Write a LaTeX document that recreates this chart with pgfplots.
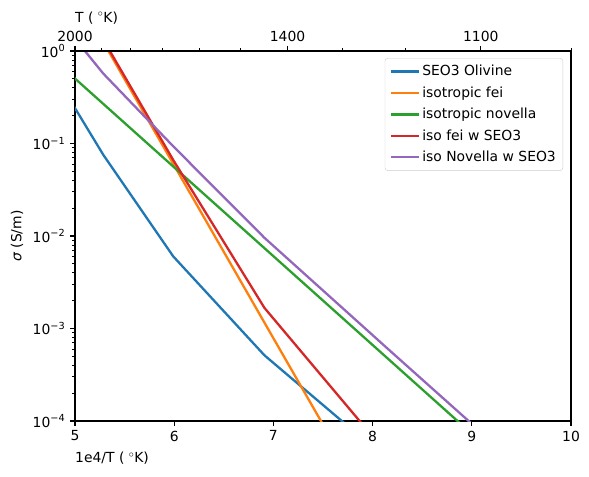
\documentclass[border=0pt]{standalone}
\usepackage{fontspec}
\setmainfont{DejaVu Sans}
\usepackage{pgfplots}
\pgfplotsset{compat=1.18}
\definecolor{c0}{HTML}{1F77B4}
\definecolor{c1}{HTML}{FF7F0E}
\definecolor{c2}{HTML}{2CA02C}
\definecolor{c3}{HTML}{D62728}
\definecolor{c4}{HTML}{9467BD}
\definecolor{lgray}{HTML}{CCCCCC}
\begin{document}
\fontsize{13.9}{16.7}\selectfont
\begin{tikzpicture}
\pgfplotsset{
  common/.style={
    scale only axis, width=496pt, height=370pt,
    xmin=5, xmax=10,
    tick align=outside,
    major tick length=4.9pt, minor tick length=2.8pt,
    every tick/.style={black, line width=1.1pt},
    minor tick style={line width=0.83pt},
    axis line style={line width=1.1pt},
    tick label style={font=\fontsize{13.9}{16.7}\selectfont},
    label style={font=\fontsize{13.9}{16.7}\selectfont},
  }
}
\begin{axis}[
  common,
  ymode=log, ymin=1e-4, ymax=1,
  xtick pos=bottom, ytick pos=left,
  xtick={5,6,7,8,9,10}, xticklabels={5,6,7,8,9,10},
  ytick={1e-4,1e-3,1e-2,1e-1,1},
  yticklabels={10\textsuperscript{−4},10\textsuperscript{−3},10\textsuperscript{−2},10\textsuperscript{−1},10\textsuperscript{0}},
  xlabel={1e4/T ( $^\circ$K)},
  xlabel style={at={(ticklabel cs:0)}, anchor=north west, inner sep=0pt, yshift=-6pt},
  ylabel={{\itshape σ} (S/m)},
  legend cell align=left,
  legend image code/.code={\draw[#1, line width=2.3pt] (0pt,0pt) -- (28pt,0pt);},
  legend style={at={(1,1)}, anchor=north east, xshift=-8pt, yshift=-7pt,
    draw=lgray, rounded corners=3pt, fill=white, fill opacity=0.8, text opacity=1,
    font=\fontsize{13.9}{16.7}\selectfont, row sep=4.8pt, inner sep=5pt},
]
\addplot[c0, line width=2.3pt] coordinates {(4.73,0.7244) (5.285,0.07551) (5.99,0.006026) (6.91,5.129e-4) (8.157,3.758e-5)};
\addlegendentry{SEO3 Olivine}
\addplot[c1, line width=2.3pt] coordinates {(4.73,13.58) (5.285,1.250) (5.99,0.0604) (6.91,1.156e-3) (8.157,5.43e-6)};
\addlegendentry{isotropic fei}
\addplot[c2, line width=2.3pt] coordinates {(4.73,0.9147) (5.285,0.2682) (5.99,0.05644) (6.91,7.385e-3) (8.157,4.691e-4) (9.96,8.72e-6)};
\addlegendentry{isotropic novella}
\addplot[c3, line width=2.3pt] coordinates {(4.73,14.30) (5.285,1.3255) (5.99,0.0664) (6.91,1.669e-3) (8.157,4.30e-5)};
\addlegendentry{iso fei w SEO3}
\addplot[c4, line width=2.3pt] coordinates {(4.73,3.083) (5.285,0.5702) (5.99,0.09333) (6.91,9.55e-3) (8.157,5.984e-4) (9.96,1.122e-5)};
\addlegendentry{iso Novella w SEO3}
\coordinate (bl) at (rel axis cs:0,0);
\coordinate (tr) at (rel axis cs:1,1);
\end{axis}
\begin{axis}[
  common,
  ymin=0, ymax=1,
  axis x line*=top, axis y line=none,
  xtick={5,7.142857,9.090909}, xticklabels={2000,1400,1100},
  minor xtick={5.263158,5.555556,5.882353,6.25,6.666667,7.692308,8.333333,10},
  xlabel={T ( $^\circ$K)},
  xlabel style={at={(ticklabel cs:0)}, anchor=south west, inner sep=0pt, yshift=2pt},
]
\end{axis}
\pgfresetboundingbox
\path ([shift={(-75pt,-55pt)}]bl) rectangle ([shift={(18pt,51pt)}]tr);
\end{tikzpicture}
\end{document}
